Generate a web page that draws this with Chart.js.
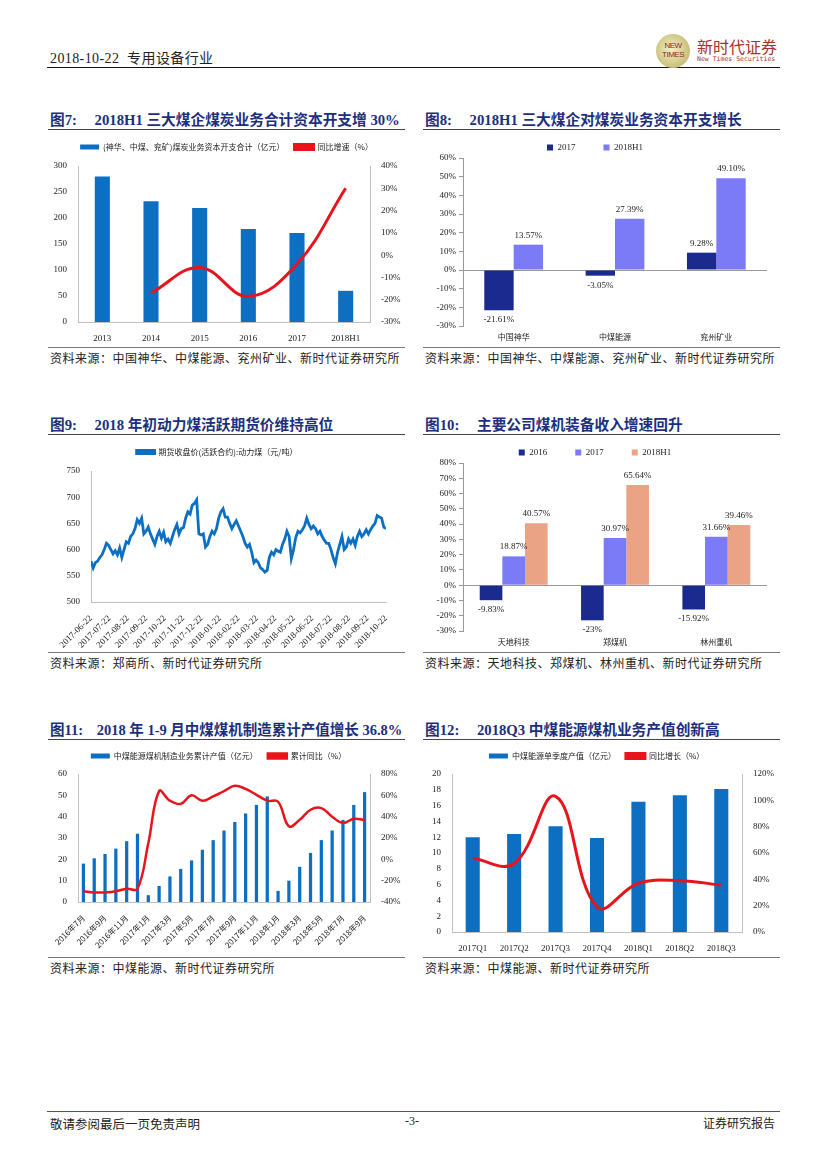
<!DOCTYPE html>
<html lang="zh-CN">
<head>
<meta charset="UTF-8">
<title>专用设备行业</title>
<script src="https://cdn.jsdelivr.net/npm/chart.js"></script>
<style>
    body { margin: 0; background: #fff; }
    .page {
        position: relative;
        width: 827px;
        height: 1169px;
        font-family: "Liberation Serif", "Noto Sans CJK SC", serif;
        color: #222;
        overflow: hidden;
    }
    .abs { position: absolute; white-space: nowrap; }
    .title { font-size: 14.7px; font-weight: bold; color: #1c2f7c; }
    .title .fig { margin-right: 14px; }
    .hr { position: absolute; height: 0; border-top: 1px solid #444; }
    .src { font-size: 12px; letter-spacing: 0.5px; color: #222; }
    .box { position: absolute; }
</style>
</head>
<body>
<div class="page">
    <!-- 页眉 -->
    <div class="abs" style="left:50px;top:47px;font-size:14px;letter-spacing:0.4px;">2018-10-22&nbsp; 专用设备行业</div>
    <div class="hr" style="left:47px;top:67px;width:733px;border-top:1.5px solid #111;"></div>
    <div class="abs" style="left:656px;top:34px;width:34px;height:34px;border-radius:50%;background:radial-gradient(circle at 45% 45%, #f3efc8, #c9bf7a 70%, #a89c55);"></div>
    <div class="abs" style="left:656px;top:41px;width:34px;text-align:center;font-size:8px;line-height:9px;color:#8b2a22;font-family:'Liberation Sans';letter-spacing:-0.5px;">NEW<br>TIMES</div>
    <div class="abs" style="left:697px;top:34px;font-size:16px;color:#a4322a;font-family:'Noto Sans CJK SC';">新时代证券</div>
    <div class="abs" style="left:697px;top:55px;font-size:6.5px;color:#a4322a;font-family:'DejaVu Sans Mono';">New Times Securities</div>

    <!-- 图7 / 图8 -->
    <div class="abs title" style="left:50px;top:108px;"><span class="fig">图7:</span> 2018H1 三大煤企煤炭业务合计资本开支增 30%</div>
    <div class="hr" style="left:48px;top:129px;width:357px;"></div>
    <div class="abs title" style="left:425px;top:108px;"><span class="fig">图8:</span> 2018H1 三大煤企对煤炭业务资本开支增长</div>
    <div class="hr" style="left:423px;top:129px;width:357px;"></div>
    <div class="box" style="left:48px;top:133px;width:357px;height:209px;"><canvas id="c7"></canvas></div>
    <div class="box" style="left:423px;top:133px;width:357px;height:211px;"><canvas id="c8"></canvas></div>
    <div class="hr" style="left:48px;top:347px;width:357px;border-top-color:#777;"></div>
    <div class="abs src" style="left:50px;top:349px;">资料来源：中国神华、中煤能源、兖州矿业、新时代证券研究所</div>
    <div class="hr" style="left:423px;top:347px;width:357px;border-top-color:#777;"></div>
    <div class="abs src" style="left:425px;top:349px;">资料来源：中国神华、中煤能源、兖州矿业、新时代证券研究所</div>

    <!-- 图9 / 图10 -->
    <div class="abs title" style="left:50px;top:413px;"><span class="fig">图9:</span> 2018 年初动力煤活跃期货价维持高位</div>
    <div class="hr" style="left:48px;top:434px;width:357px;"></div>
    <div class="abs title" style="left:425px;top:413px;"><span class="fig">图10:</span> 主要公司煤机装备收入增速回升</div>
    <div class="hr" style="left:423px;top:434px;width:357px;"></div>
    <div class="box" style="left:48px;top:438px;width:357px;height:210px;"><canvas id="c9"></canvas></div>
    <div class="box" style="left:423px;top:438px;width:357px;height:211px;"><canvas id="c10"></canvas></div>
    <div class="hr" style="left:48px;top:652px;width:357px;border-top-color:#777;"></div>
    <div class="abs src" style="left:50px;top:654px;">资料来源：郑商所、新时代证券研究所</div>
    <div class="hr" style="left:423px;top:652px;width:357px;border-top-color:#777;"></div>
    <div class="abs src" style="left:425px;top:654px;">资料来源：天地科技、郑煤机、林州重机、新时代证券研究所</div>

    <!-- 图11 / 图12 -->
    <div class="abs title" style="left:50px;top:718px;font-size:14.5px;"><span class="fig" style="margin-right:10px;">图11:</span> 2018 年 1-9 月中煤煤机制造累计产值增长 36.8%</div>
    <div class="hr" style="left:48px;top:739px;width:357px;"></div>
    <div class="abs title" style="left:425px;top:718px;"><span class="fig">图12:</span> 2018Q3 中煤能源煤机业务产值创新高</div>
    <div class="hr" style="left:423px;top:739px;width:357px;"></div>
    <div class="box" style="left:48px;top:742px;width:357px;height:211px;"><canvas id="c11"></canvas></div>
    <div class="box" style="left:423px;top:742px;width:357px;height:211px;"><canvas id="c12"></canvas></div>
    <div class="hr" style="left:48px;top:957px;width:357px;border-top-color:#777;"></div>
    <div class="abs src" style="left:50px;top:959px;">资料来源：中煤能源、新时代证券研究所</div>
    <div class="hr" style="left:423px;top:957px;width:357px;border-top-color:#777;"></div>
    <div class="abs src" style="left:425px;top:959px;">资料来源：中煤能源、新时代证券研究所</div>

    <!-- 页脚 -->
    <div class="hr" style="left:47px;top:1111px;width:733px;border-top:1.5px solid #555;"></div>
    <div class="abs" style="left:50px;top:1114px;font-size:12.5px;">敬请参阅最后一页免责声明</div>
    <div class="abs" style="left:405px;top:1114px;font-size:12px;">-3-</div>
    <div class="abs" style="left:703px;top:1114px;font-size:12px;">证券研究报告</div>
</div>

<script>
    // 图7 三大煤企资本开支
    const capexYears = ['2013', '2014', '2015', '2016', '2017', '2018H1'];
    const capexTotal = [280, 232, 219, 179, 171, 60];
    const capexGrowth = [null, -17, -5.5, -18.5, -4, 30];

    // 图8 各公司资本开支增速
    const coalCompanies = ['中国神华', '中煤能源', '兖州矿业'];
    const capex2017 = [-21.61, -3.05, 9.28];
    const capex2018H1 = [13.57, 27.39, 49.10];

    // 图9 动力煤期货收盘价（活跃合约）
    const futuresTicks = ['2017-06-22', '2017-07-22', '2017-08-22', '2017-09-22', '2017-10-22', '2017-11-22',
        '2017-12-22', '2018-01-22', '2018-02-22', '2018-03-22', '2018-04-22', '2018-05-22', '2018-06-22',
        '2018-07-22', '2018-08-22', '2018-09-22', '2018-10-22'];
    const futuresPrice = [578, 565, 575, 578, 585, 590, 600, 612, 608, 600, 592, 598, 590, 603, 585, 600,
        615, 612, 625, 630, 640, 657, 650, 660, 630, 635, 643, 630, 620, 610, 625, 635, 622, 633, 615, 620,
        612, 625, 638, 648, 630, 640, 642, 660, 672, 668, 685, 688, 695, 630, 628, 630, 605, 610, 625, 635,
        630, 640, 660, 672, 678, 662, 662, 650, 640, 648, 655, 645, 635, 625, 612, 605, 610, 595, 575, 580,
        575, 565, 562, 557, 560, 585, 595, 590, 600, 597, 595, 610, 620, 635, 625, 583, 600, 623, 635, 632,
        638, 645, 660, 648, 640, 645, 640, 630, 635, 625, 618, 612, 612, 600, 585, 573, 595, 610, 625, 600,
        605, 620, 612, 620, 608, 625, 635, 625, 630, 638, 630, 638, 645, 650, 665, 662, 660, 643, 640];

    // 图10 煤机装备收入增速
    const machineCompanies = ['天地科技', '郑煤机', '林州重机'];
    const rev2016 = [-9.83, -23, -15.92];
    const rev2017 = [18.87, 30.97, 31.66];
    const rev2018H1 = [40.57, 65.64, 39.46];

    // 图11 中煤能源煤机制造累计产值
    const outputMonths = ['2016年7月', '2016年8月', '2016年9月', '2016年10月', '2016年11月', '2016年12月',
        '2017年1月', '2017年2月', '2017年3月', '2017年4月', '2017年5月', '2017年6月', '2017年7月', '2017年8月',
        '2017年9月', '2017年10月', '2017年11月', '2017年12月', '2018年1月', '2018年2月', '2018年3月', '2018年4月',
        '2018年5月', '2018年6月', '2018年7月', '2018年8月', '2018年9月'];
    const outputCum = [18, 20.5, 22.5, 25, 28.5, 32, 3.2, 7.5, 12, 15.5, 19.5, 24.5, 29, 33.5, 37.5, 41.5,
        45.5, 49.5, 5.2, 10, 16.5, 23, 29, 33.5, 38.5, 45.5, 51.5];
    const outputCumYoy = [-30, -31, -31, -30, -27.5, -27.5, 15, 64, 55, 52, 60, 55, 59, 64, 69, 66, 60.5,
        55, 54, 31, 37, 46.5, 48, 40, 34, 38, 36.8];

    // 图12 中煤能源单季度产值
    const quarters = ['2017Q1', '2017Q2', '2017Q3', '2017Q4', '2018Q1', '2018Q2', '2018Q3'];
    const quarterOutput = [12.0, 12.4, 13.4, 11.9, 16.5, 17.3, 18.1];
    const quarterYoy = [56, 52, 103, 19, 37, 39, 35.6];

    const SERIF = 'Liberation Serif';
    const CJK = 'Noto Sans CJK SC';
    const BLUE = '#0c6fc1';
    const RED = '#e8141b';
    const AXIS = '#bfbfbf';
    const pct = v => v + '%';
    const tickFont = { family: SERIF, size: 9 };

    Chart.defaults.animation = false;
    Chart.defaults.color = '#222';
    Chart.defaults.maintainAspectRatio = false;
    Chart.defaults.plugins.tooltip.enabled = false;

    // 图例与绘图区之间的距离（调整图例高度）
    Chart.register({
        id: 'legendGap',
        beforeLayout(chart, args, opts) {
            const lg = chart.legend;
            if (!lg || lg._gapDone) return;
            const fit = lg.fit;
            lg.fit = function () {
                fit.call(this);
                this.height += opts.gap || 0;
            };
            lg._gapDone = true;
        }
    });

    // 图例文字后补空格，拉开图例项间距
    function spaced(extra) {
        return chart => Chart.defaults.plugins.legend.labels.generateLabels(chart).map((it, i, arr) => {
            if (i < arr.length - 1) it.text += extra;
            return it;
        });
    }

    // 柱子上的数值标签
    const valueLabels = {
        id: 'valueLabels',
        afterDatasetsDraw(chart, args, opts) {
            const ctx = chart.ctx;
            ctx.save();
            ctx.font = '9px "' + SERIF + '"';
            ctx.fillStyle = '#222';
            ctx.textAlign = 'center';
            chart.data.datasets.forEach((ds, i) => {
                chart.getDatasetMeta(i).data.forEach((bar, j) => {
                    const v = ds.data[j];
                    const text = opts.format(v);
                    if (v >= 0) {
                        ctx.textBaseline = 'bottom';
                        ctx.fillText(text, bar.x, bar.y - 5);
                    } else {
                        ctx.textBaseline = 'top';
                        ctx.fillText(text, bar.x, bar.y + 5);
                    }
                });
            });
            ctx.restore();
        }
    };

    const byIndex = (a, b) => a.datasetIndex - b.datasetIndex;

    // 图7
    new Chart(document.getElementById('c7'), {
        data: {
            labels: capexYears,
            datasets: [
                { type: 'bar', label: '(神华、中煤、兖矿)煤炭业务资本开支合计（亿元）', data: capexTotal,
                  backgroundColor: BLUE, barPercentage: 0.31, categoryPercentage: 1, order: 2 },
                { type: 'line', label: '同比增速（%）', data: capexGrowth, yAxisID: 'y1',
                  borderColor: RED, backgroundColor: RED, borderWidth: 3, pointRadius: 0, tension: 0.4, order: 1 }
            ]
        },
        options: {
            plugins: {
                legend: { labels: { font: { family: CJK, size: 8 }, boxWidth: 19, boxHeight: 5, padding: 10, sort: byIndex } },
                legendGap: { gap: 5 }
            },
            scales: {
                x: { grid: { display: false }, border: { color: AXIS }, ticks: { font: tickFont }, afterFit: s => { s.height = 20; } },
                y: { min: 0, max: 300, ticks: { stepSize: 50, font: tickFont }, grid: { display: false },
                     border: { color: AXIS }, afterFit: s => { s.width = 30; } },
                y1: { position: 'right', min: -30, max: 40, ticks: { stepSize: 10, font: tickFont, callback: pct },
                      grid: { display: false }, border: { color: AXIS }, afterFit: s => { s.width = 35; } }
            }
        }
    });

    // 图8 / 图10 共用的坐标轴设置
    function groupedScales(min, max) {
        return {
            x: { grid: { display: false, drawTicks: false }, border: { display: false },
                 ticks: { font: { family: CJK, size: 8 }, padding: 6 },
                 afterFit: s => { s.height = 18; } },
            y: { min: min, max: max, ticks: { stepSize: 10, font: tickFont, callback: pct },
                 grid: { color: c => c.tick && c.tick.value === 0 ? '#999' : 'rgba(0,0,0,0)', tickColor: '#999', tickLength: 4 },
                 border: { color: '#999' }, afterFit: s => { s.width = 40; } }
        };
    }

    // 图8
    new Chart(document.getElementById('c8'), {
        type: 'bar',
        data: {
            labels: coalCompanies,
            datasets: [
                { label: '2017', data: capex2017, backgroundColor: '#1b2a8e', barPercentage: 1, categoryPercentage: 0.58 },
                { label: '2018H1', data: capex2018H1, backgroundColor: '#7b7bf7', barPercentage: 1, categoryPercentage: 0.58 }
            ]
        },
        options: {
            layout: { padding: { right: 13 } },
            plugins: {
                legend: { labels: { font: { family: SERIF, size: 9 }, boxWidth: 6, boxHeight: 6, padding: 10,
                                    generateLabels: spaced('\u2003\u2003') } },
                legendGap: { gap: -4 },
                valueLabels: { format: v => v.toFixed(2) + '%' }
            },
            scales: groupedScales(-30, 60)
        },
        plugins: [valueLabels]
    });

    // 图9
    const lastIdx = futuresPrice.length - 1;
    new Chart(document.getElementById('c9'), {
        type: 'line',
        data: {
            datasets: [{
                label: '期货收盘价(活跃合约):动力煤（元/吨）',
                data: futuresPrice.map((v, i) => ({ x: i * (futuresTicks.length - 1) / lastIdx, y: v })),
                borderColor: BLUE, backgroundColor: BLUE, borderWidth: 2.8, pointRadius: 0, tension: 0
            }]
        },
        options: {
            layout: { padding: { right: 19 } },
            plugins: {
                legend: { labels: { font: { family: CJK, size: 8 }, boxWidth: 18, boxHeight: 3, padding: 10 } },
                legendGap: { gap: 5 }
            },
            scales: {
                x: { type: 'linear', min: 0, max: futuresTicks.length - 1,
                     ticks: { stepSize: 1, autoSkip: false, maxRotation: 45, minRotation: 45, font: tickFont,
                              callback: v => futuresTicks[v] },
                     grid: { display: false }, border: { color: AXIS }, afterFit: s => { s.height = 46; } },
                y: { min: 500, max: 750, ticks: { stepSize: 50, font: tickFont }, grid: { display: false },
                     border: { color: AXIS }, afterFit: s => { s.width = 43; } }
            }
        }
    });

    // 图10
    new Chart(document.getElementById('c10'), {
        type: 'bar',
        data: {
            labels: machineCompanies,
            datasets: [
                { label: '2016', data: rev2016, backgroundColor: '#1b2a8e', barPercentage: 1, categoryPercentage: 0.67 },
                { label: '2017', data: rev2017, backgroundColor: '#7b7bf7', barPercentage: 1, categoryPercentage: 0.67 },
                { label: '2018H1', data: rev2018H1, backgroundColor: '#eaa385', barPercentage: 1, categoryPercentage: 0.67 }
            ]
        },
        options: {
            layout: { padding: { right: 13 } },
            plugins: {
                legend: { labels: { font: { family: SERIF, size: 9 }, boxWidth: 6, boxHeight: 6, padding: 10,
                                    generateLabels: spaced('\u2003\u2003') } },
                legendGap: { gap: -4 },
                valueLabels: { format: v => v + '%' }
            },
            scales: groupedScales(-30, 80)
        },
        plugins: [valueLabels]
    });

    // 图11
    new Chart(document.getElementById('c11'), {
        data: {
            labels: outputMonths,
            datasets: [
                { type: 'bar', label: '中煤能源煤机制造业务累计产值（亿元）', data: outputCum,
                  backgroundColor: BLUE, barPercentage: 0.3, categoryPercentage: 1, order: 2 },
                { type: 'line', label: '累计同比（%）', data: outputCumYoy, yAxisID: 'y1',
                  borderColor: RED, backgroundColor: RED, borderWidth: 2.5, pointRadius: 0, tension: 0.4, order: 1 }
            ]
        },
        options: {
            plugins: {
                legend: { labels: { font: { family: CJK, size: 8 }, boxWidth: 19, boxHeight: 5, padding: 10, sort: byIndex,
                                    generateLabels: spaced('\u2003\u2003') } },
                legendGap: { gap: 4 }
            },
            scales: {
                x: { grid: { display: false }, border: { color: AXIS },
                     ticks: { autoSkip: false, maxRotation: 45, minRotation: 45, font: { family: CJK, size: 8 },
                              callback: (v, i) => i % 2 === 0 ? outputMonths[i] : '' },
                     afterFit: s => { s.height = 51; } },
                y: { min: 0, max: 60, ticks: { stepSize: 10, font: tickFont }, grid: { display: false },
                     border: { color: AXIS }, afterFit: s => { s.width = 30; } },
                y1: { position: 'right', min: -40, max: 80, ticks: { stepSize: 20, font: tickFont, callback: pct },
                      grid: { display: false }, border: { color: AXIS }, afterFit: s => { s.width = 35; } }
            }
        }
    });

    // 图12
    new Chart(document.getElementById('c12'), {
        data: {
            labels: quarters,
            datasets: [
                { type: 'bar', label: '中煤能源单季度产值（亿元）', data: quarterOutput,
                  backgroundColor: BLUE, barPercentage: 0.34, categoryPercentage: 1, order: 2 },
                { type: 'line', label: '同比增长（%）', data: quarterYoy, yAxisID: 'y1',
                  borderColor: RED, backgroundColor: RED, borderWidth: 3, pointRadius: 0, tension: 0.4, order: 1 }
            ]
        },
        options: {
            plugins: {
                legend: { labels: { font: { family: CJK, size: 8 }, boxWidth: 19, boxHeight: 5, padding: 10, sort: byIndex,
                                    generateLabels: spaced('\u2003 ') } },
                legendGap: { gap: 4 }
            },
            scales: {
                x: { grid: { display: false }, border: { color: AXIS }, ticks: { font: tickFont }, afterFit: s => { s.height = 21; } },
                y: { min: 0, max: 20, ticks: { stepSize: 2, font: tickFont }, grid: { display: false },
                     border: { color: AXIS }, afterFit: s => { s.width = 29; } },
                y1: { position: 'right', min: 0, max: 120, ticks: { stepSize: 20, font: tickFont, callback: pct },
                      grid: { display: false }, border: { color: AXIS }, afterFit: s => { s.width = 38; } }
            }
        }
    });
</script>
</body>
</html>
